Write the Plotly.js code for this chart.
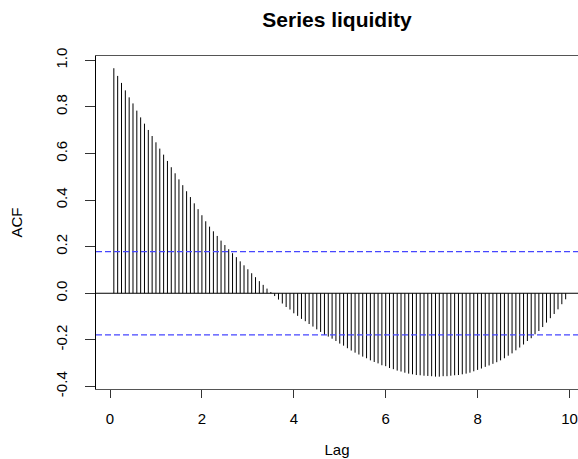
<!DOCTYPE html>
<html>
<head>
<meta charset="utf-8">
<script src="https://cdn.plot.ly/plotly-3.0.1.min.js"></script>
<style>
  html, body { margin: 0; padding: 0; background: #ffffff; overflow: hidden; }
  #chart { width: 578px; height: 459px; }
</style>
</head>
<body>
<div id="chart"></div>
<script>
// ---- data (ACF of series "liquidity", lags in years, monthly) ----
const acfValues = [
  0.966, 0.933, 0.903, 0.871, 0.841, 0.815, 0.784, 0.755, 0.728, 0.701,
  0.675, 0.648, 0.621, 0.595, 0.568, 0.541, 0.515, 0.489, 0.464, 0.438,
  0.413, 0.386, 0.361, 0.335, 0.309, 0.286, 0.266, 0.246, 0.226, 0.207,
  0.189, 0.172, 0.155, 0.137, 0.120, 0.103, 0.086, 0.069, 0.052, 0.036,
  0.020, 0.005, -0.012, -0.027, -0.044, -0.059, -0.070, -0.086, -0.097, -0.110,
  -0.120, -0.132, -0.143, -0.155, -0.166, -0.179, -0.186, -0.195, -0.205, -0.216,
  -0.225, -0.236, -0.246, -0.255, -0.263, -0.272, -0.279, -0.288, -0.295, -0.301,
  -0.309, -0.313, -0.321, -0.326, -0.332, -0.336, -0.341, -0.345, -0.348, -0.351,
  -0.352, -0.354, -0.355, -0.356, -0.358, -0.358, -0.356, -0.356, -0.354, -0.352,
  -0.351, -0.348, -0.345, -0.341, -0.335, -0.329, -0.323, -0.316, -0.310, -0.303,
  -0.296, -0.288, -0.279, -0.268, -0.258, -0.245, -0.233, -0.220, -0.205, -0.193,
  -0.176, -0.162, -0.145, -0.126, -0.107, -0.089, -0.069, -0.047, -0.026
];
const lagsPerYear = 12;
const ciBound = 0.179;
const xTickVals = [0, 2, 4, 6, 8, 10];
const xTickText = ["0", "2", "4", "6", "8", "10"];
const yTickVals = [-0.4, -0.2, 0.0, 0.2, 0.4, 0.6, 0.8, 1.0];
const yTickText = ["-0.4", "-0.2", "0.0", "0.2", "0.4", "0.6", "0.8", "1.0"];
const titleText = "Series liquidity";
const xTitle = "Lag";
const yTitle = "ACF";

// ---- build vertical spikes (one segment per lag) ----
const lags = acfValues.map((_, i) => (i + 1) / lagsPerYear);
const sx = [], sy = [];
lags.forEach((l, i) => { sx.push(l, l, null); sy.push(0, acfValues[i], null); });

const FONT = '"Liberation Sans", Arial, sans-serif';

const traces = [{
  type: 'scatter', mode: 'lines', x: sx, y: sy,
  line: { color: '#000000', width: 1 },
  hoverinfo: 'skip', showlegend: false
}];

const layout = {
  width: 578, height: 459,
  margin: { l: 96, r: 0, t: 56, b: 70, pad: 0 },
  paper_bgcolor: '#ffffff', plot_bgcolor: '#ffffff',
  font: { family: FONT, size: 15, color: '#000000' },
  showlegend: false,
  title: {
    text: '<b>' + titleText + '</b>',
    font: { family: FONT, size: 21, color: '#000000' },
    xref: 'paper', x: 0.5, xanchor: 'center',
    yref: 'container', y: 1 - 20 / 459, yanchor: 'middle'
  },
  xaxis: {
    range: [-0.305, 10.185], autorange: false,
    tickmode: 'array', tickvals: xTickVals, ticktext: xTickText,
    ticks: 'outside', ticklen: 8, tickwidth: 1, tickcolor: '#333333',
    showline: true, mirror: true, linecolor: '#555555', linewidth: 1,
    showgrid: false, zeroline: false,
    tickfont: { family: FONT, size: 15, color: '#000000' },
    ticklabelstandoff: 8,
    title: { text: xTitle, font: { family: FONT, size: 15, color: '#000000' }, standoff: 18 }
  },
  yaxis: {
    range: [-0.411, 1.0185], autorange: false,
    tickmode: 'array', tickvals: yTickVals, ticktext: yTickText,
    ticks: 'outside', ticklen: 10, tickwidth: 1, tickcolor: '#333333',
    tickangle: -90,
    showline: true, mirror: false, linecolor: '#000000', linewidth: 1,
    showgrid: false, zeroline: false,
    tickfont: { family: FONT, size: 15, color: '#000000' },
    ticklabelstandoff: 12,
    title: { text: yTitle, font: { family: FONT, size: 15, color: '#000000' }, standoff: 26 }
  },
  shapes: [
    { type: 'line', xref: 'paper', x0: 0, x1: 1, yref: 'y', y0: 0, y1: 0,
      line: { color: '#000000', width: 1 } },
    { type: 'line', xref: 'paper', x0: 0, x1: 1, yref: 'y', y0: ciBound, y1: ciBound,
      line: { color: 'rgb(70,70,255)', width: 1.2, dash: '6px,3px' } },
    { type: 'line', xref: 'paper', x0: 0, x1: 1, yref: 'y', y0: -ciBound, y1: -ciBound,
      line: { color: 'rgb(70,70,255)', width: 1.2, dash: '6px,3px' } }
  ]
};

Plotly.newPlot('chart', traces, layout, { displayModeBar: false, staticPlot: true });
</script>
</body>
</html>
